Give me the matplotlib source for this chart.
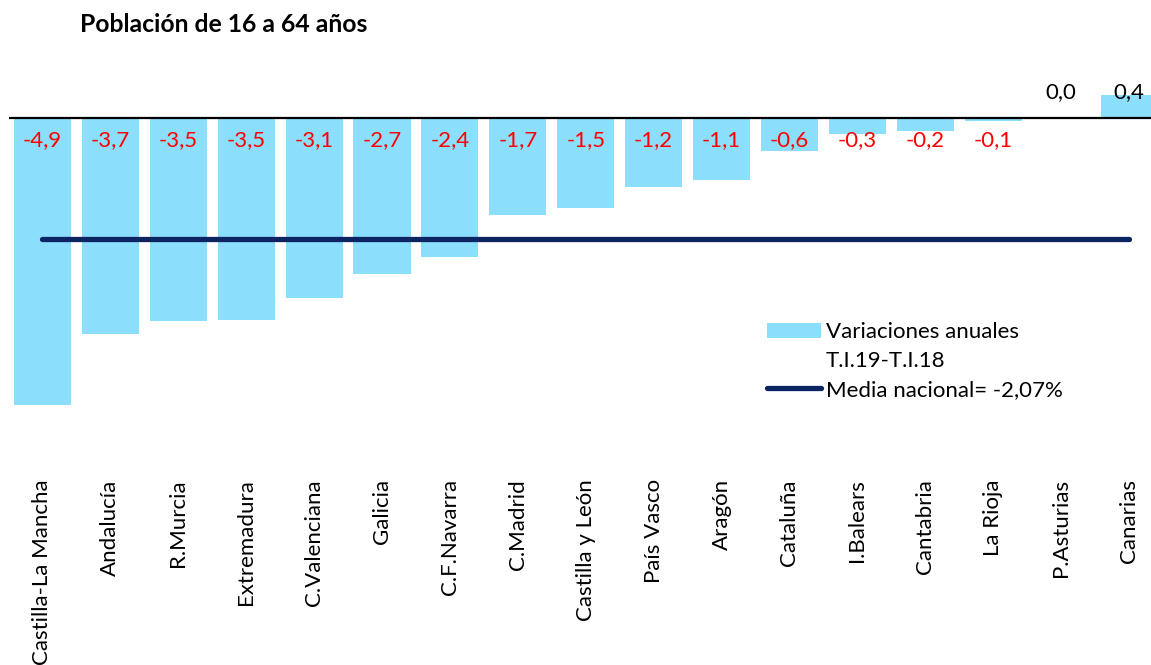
import matplotlib
matplotlib.use("Agg")
import matplotlib.pyplot as plt
from matplotlib.patches import Patch
from matplotlib.lines import Line2D

plt.rcParams['font.family'] = ['Lato', 'DejaVu Sans']

regiones = ["Castilla-La Mancha", "Andalucía", "R.Murcia", "Extremadura", "C.Valenciana",
            "Galicia", "C.F.Navarra", "C.Madrid", "Castilla y León", "País Vasco", "Aragón",
            "Cataluña", "I.Balears", "Cantabria", "La Rioja", "P.Asturias", "Canarias"]
variaciones = [-4.90, -3.68, -3.46, -3.45, -3.08, -2.66, -2.37, -1.66, -1.53, -1.18, -1.06,
               -0.56, -0.27, -0.22, -0.06, 0.0, 0.40]
media_nacional = -2.07

titulo = "Población de 16 a 64 años"
leyenda_barras = "Variaciones anuales"
leyenda_barras2 = "T.I.19-T.I.18"
leyenda_media = "Media nacional= -2,07%"

bar_color = "#8BDEFC"
line_color = "#0B2563"

W, H = 1151, 665
fig = plt.figure(figsize=(W / 100, H / 100), dpi=100)
ax = fig.add_axes([8.5 / W, 1 - 469.6 / H, 1154.5 / W, 398.5 / H])

x = list(range(len(regiones)))
ax.bar(x, variaciones, width=0.84, color=bar_color, zorder=2)
ax.axhline(0, color="black", lw=1.6, zorder=3)
ax.hlines(media_nacional, x[0], x[-1], color=line_color, lw=3.8, zorder=4,
          capstyle="round")

for xi, v in zip(x, variaciones):
    txt = f"{v:.1f}".replace(".", ",")
    if v < 0:
        ax.annotate(txt, xy=(xi, 0), xytext=(0, -22), textcoords="offset pixels",
                    ha="center", va="center", color="#FF0000", fontsize=16, zorder=5)
    else:
        ax.annotate(txt, xy=(xi, 0), xytext=(0, 26), textcoords="offset pixels",
                    ha="center", va="center", color="black", fontsize=16, zorder=5)

ax.set_xlim(-0.5, len(regiones) - 0.5)
ax.set_ylim(-6.0, 0.8)
ax.set_xticks(x)
ax.set_xticklabels(regiones, rotation=90, ha="center", va="top", fontsize=16)
ax.tick_params(axis="x", length=0, pad=7)
ax.set_yticks([])
for s in ax.spines.values():
    s.set_visible(False)

fig.text(80 / W, 1 - 24 / H, titulo, ha="left", va="center", fontsize=17.8,
         fontweight="bold")

handles = [Patch(facecolor=bar_color, edgecolor="none"),
           Patch(facecolor="none", edgecolor="none"),
           Line2D([0], [0], color=line_color, lw=3.8, solid_capstyle="round")]
labels = [leyenda_barras, leyenda_barras2, leyenda_media]
ax.legend(handles, labels, loc="upper left", bbox_to_anchor=(767 / W, 1 - 322 / H),
          bbox_transform=fig.transFigure, frameon=False, fontsize=16,
          borderpad=0, borderaxespad=0, handlelength=2.45, handletextpad=0.2,
          labelspacing=0.4, handleheight=0.65)

fig.savefig("out.png", dpi=100)
